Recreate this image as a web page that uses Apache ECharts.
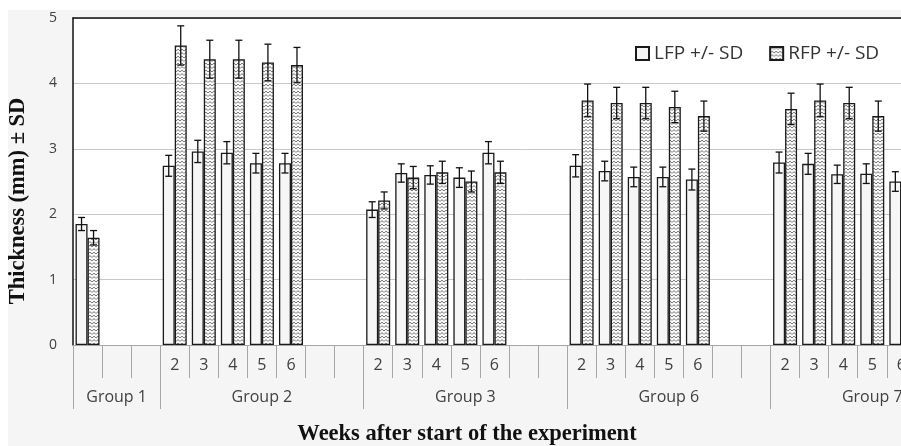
<!DOCTYPE html>
<html>
<head>
<meta charset="utf-8">
<script src="https://cdn.jsdelivr.net/npm/echarts@6/dist/echarts.min.js"></script>
<style>
  html, body { margin: 0; padding: 0; background: #fff; width: 901px; height: 446px; overflow: hidden; }
  #chart { position: absolute; left: 8px; top: 10px; width: 966px; height: 436px; background: #f5f5f5; }
</style>
</head>
<body>
<div id="chart"></div>
<script>
// week label per slot ('' = empty slot)
const weekLabels = ['', '', '',
  '2', '3', '4', '5', '6', '', '',
  '2', '3', '4', '5', '6', '', '',
  '2', '3', '4', '5', '6', '', '',
  '2', '3', '4', '5', '6', '', ''];
const groupNames = ['Group 1', 'Group 2', 'Group 3', 'Group 6', 'Group 7'];
const groupSizes = [3, 7, 7, 7, 7];

const lfpMean = [1.85, null, null,
  2.74, 2.96, 2.94, 2.78, 2.78, null, null,
  2.07, 2.63, 2.60, 2.56, 2.94, null, null,
  2.74, 2.66, 2.57, 2.57, 2.53, null, null,
  2.79, 2.77, 2.61, 2.62, 2.50, null, null];
const lfpSd = [0.10, null, null,
  0.16, 0.17, 0.17, 0.15, 0.15, null, null,
  0.12, 0.14, 0.14, 0.15, 0.17, null, null,
  0.17, 0.15, 0.15, 0.15, 0.16, null, null,
  0.16, 0.16, 0.14, 0.15, 0.15, null, null];
const rfpMean = [1.64, null, null,
  4.58, 4.37, 4.37, 4.32, 4.28, null, null,
  2.21, 2.56, 2.64, 2.50, 2.64, null, null,
  3.74, 3.70, 3.70, 3.64, 3.50, null, null,
  3.61, 3.74, 3.70, 3.50, 3.37, null, null];
const rfpSd = [0.11, null, null,
  0.30, 0.29, 0.29, 0.28, 0.27, null, null,
  0.13, 0.17, 0.17, 0.16, 0.17, null, null,
  0.25, 0.24, 0.24, 0.24, 0.23, null, null,
  0.24, 0.25, 0.24, 0.23, 0.24, null, null];

const BAR_W = 12;
const CAP_W = 7;

// group label sits on the middle slot of its group
const groupStarts = [];
const groupAxis = weekLabels.map(() => '');
let start = 0;
groupSizes.forEach((size, g) => {
  groupStarts.push(start);
  groupAxis[start + Math.floor((size - 1) / 2)] = groupNames[g];
  start += size;
});

function zigzagPattern() {
  const c = document.createElement('canvas');
  c.width = 4;
  c.height = 7;
  const ctx = c.getContext('2d');
  ctx.fillStyle = '#fafafa';
  ctx.fillRect(0, 0, 4, 7);
  ctx.strokeStyle = '#5e5e5e';
  ctx.lineWidth = 0.9;
  [0.6, 4.1].forEach(y0 => {
    ctx.beginPath();
    ctx.moveTo(0, y0 + 2);
    ctx.lineTo(2, y0);
    ctx.lineTo(4, y0 + 2);
    ctx.stroke();
  });
  return c;
}

function errorBars(name, means, sds, side) {
  const data = [];
  means.forEach((m, i) => {
    if (m != null) data.push([i, m, sds[i]]);
  });
  return {
    type: 'custom',
    name: name,
    z: 10,
    silent: true,
    data: data,
    encode: { x: 0, y: 1 },
    renderItem(params, api) {
      const i = api.value(0);
      const m = api.value(1);
      const sd = api.value(2);
      const top = api.coord([i, m + sd]);
      const bot = api.coord([i, m - sd]);
      const x = top[0] + side * BAR_W / 2;
      const style = { stroke: '#111', lineWidth: 1.3 };
      return {
        type: 'group',
        children: [
          { type: 'line', shape: { x1: x, y1: top[1], x2: x, y2: bot[1] }, style },
          { type: 'line', shape: { x1: x - CAP_W / 2, y1: top[1], x2: x + CAP_W / 2, y2: top[1] }, style },
          { type: 'line', shape: { x1: x - CAP_W / 2, y1: bot[1], x2: x + CAP_W / 2, y2: bot[1] }, style }
        ]
      };
    }
  };
}

const chart = echarts.init(document.getElementById('chart'));

const option = {
  animation: false,
  title: {
    text: 'Weeks after start of the experiment',
    left: 459,
    top: 413,
    padding: 0,
    textAlign: 'center',
    textStyle: { fontFamily: 'Liberation Serif', fontWeight: 'bold', fontSize: 22.5, color: '#111' }
  },
  legend: {
    data: ['LFP +/- SD', 'RFP +/- SD'],
    icon: 'rect',
    left: 622,
    top: 29,
    itemWidth: 13,
    itemHeight: 13,
    itemGap: 26,
    textStyle: { fontFamily: 'Open Sans', fontSize: 19, color: '#333' }
  },
  grid: {
    left: 65,
    top: 8,
    right: 0,
    height: 327,
    containLabel: false,
    outerBoundsMode: 'none',
    show: true,
    backgroundColor: '#fff',
    borderWidth: 0
  },
  xAxis: [
    {
      type: 'category',
      data: weekLabels,
      position: 'bottom',
      axisLine: { show: true, lineStyle: { color: '#a6a6a6', width: 1 } },
      axisTick: { show: true, length: 33, interval: 0, alignWithLabel: false, lineStyle: { color: '#a6a6a6', width: 1 } },
      axisLabel: { interval: 0, margin: 12, fontFamily: 'Open Sans', fontSize: 16, color: '#404040' }
    },
    {
      type: 'category',
      data: groupAxis,
      position: 'bottom',
      axisLine: { show: false },
      axisTick: {
        show: true,
        length: 64,
        interval: (index) => groupStarts.indexOf(index) >= 0,
        lineStyle: { color: '#a6a6a6', width: 1 }
      },
      axisLabel: { interval: 0, margin: 44, fontFamily: 'Open Sans', fontSize: 16, color: '#404040' }
    },
    {
      type: 'category',
      data: weekLabels,
      position: 'top',
      axisLine: { show: true, lineStyle: { color: '#111', width: 1.5 } },
      axisTick: { show: false },
      axisLabel: { show: false }
    }
  ],
  yAxis: {
    type: 'value',
    min: 0,
    max: 5,
    interval: 1,
    name: 'Thickness (mm) ± SD',
    nameLocation: 'middle',
    nameGap: 43,
    nameTextStyle: {
      fontFamily: 'Liberation Serif', fontWeight: 'bold', fontSize: 22.5, color: '#111',
      padding: [0, 39, 0, 0]
    },
    axisLine: { show: true, lineStyle: { color: '#111', width: 1.5 } },
    axisTick: { show: false },
    axisLabel: { margin: 16, fontFamily: 'Open Sans', fontSize: 14, color: '#404040' },
    splitLine: { lineStyle: { color: '#c8c8c8', width: 1 } }
  },
  series: [
    {
      name: 'LFP +/- SD',
      type: 'bar',
      barWidth: BAR_W,
      barGap: '0%',
      data: lfpMean.map(v => v == null ? '-' : v),
      itemStyle: { color: '#f6f6f6', borderColor: '#1a1a1a', borderWidth: 1.3 }
    },
    {
      name: 'RFP +/- SD',
      type: 'bar',
      barWidth: BAR_W,
      barGap: '0%',
      data: rfpMean.map(v => v == null ? '-' : v),
      itemStyle: { color: { image: zigzagPattern(), repeat: 'repeat' }, borderColor: '#1a1a1a', borderWidth: 1.3 }
    },
    errorBars('LFP sd', lfpMean, lfpSd, -1),
    errorBars('RFP sd', rfpMean, rfpSd, 1)
  ]
};

chart.setOption(option);
</script>
</body>
</html>
